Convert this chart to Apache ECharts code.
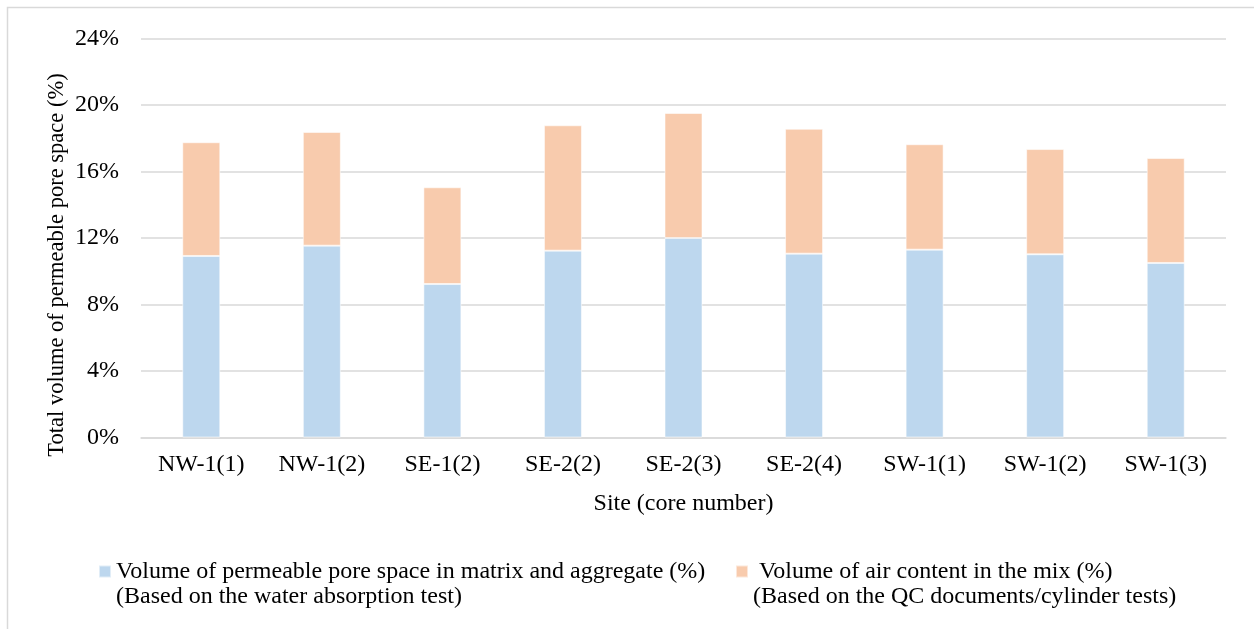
<!DOCTYPE html>
<html>
<head>
<meta charset="utf-8">
<script src="https://cdn.jsdelivr.net/npm/echarts@6/dist/echarts.min.js"></script>
<style>
  html, body { margin: 0; padding: 0; background: #ffffff; }
  #chart { width: 1254px; height: 629px; }
</style>
</head>
<body>
<div id="chart"></div>
<script>
// Core sites (x categories)
const sites = ['NW-1(1)', 'NW-1(2)', 'SE-1(2)', 'SE-2(2)', 'SE-2(3)', 'SE-2(4)', 'SW-1(1)', 'SW-1(2)', 'SW-1(3)'];

// Permeable pore space in matrix and aggregate (%), from water absorption test
const matrixPores = [10.92, 11.54, 9.23, 11.24, 12.00, 11.06, 11.30, 11.02, 10.50];

// Air content in the mix (%), from QC documents / cylinder tests
const airContent = [6.84, 6.84, 5.82, 7.54, 7.52, 7.51, 6.34, 6.33, 6.31];

// Y axis ticks (%)
const yTicks = { min: 0, max: 24, step: 4 };

const seriesNames = [
  'Volume of permeable pore space in matrix and aggregate (%)',
  'Volume of air content in the mix (%)'
];
const seriesNotes = [
  '(Based on the water absorption test)',
  '(Based on the QC documents/cylinder tests)'
];

const FONT = '"Liberation Serif", "Times New Roman", serif';
const TEXT = '#000000';
const GRID = '#D9D9D9';

// Legend marker: square in the upper part of a tall icon box so it sits beside the first text line
const legendIcon = 'path://M0,0L0.01,0M0,6.5L12,6.5L12,18.5L0,18.5ZM0,50L0.01,50';

function legendBlock(idx, left, prefix) {
  return {
    data: [seriesNames[idx]],
    left: left,
    top: 558,
    padding: 0,
    icon: legendIcon,
    itemWidth: 12,
    itemHeight: 50,
    selectedMode: false,
    formatter: function (name) {
      return prefix + name + '\n' + seriesNotes[idx];
    },
    textStyle: { fontFamily: FONT, fontSize: 24, color: TEXT, lineHeight: 25 }
  };
}

const chart = echarts.init(document.getElementById('chart'), null, { renderer: 'canvas' });

chart.setOption({
  animation: false,
  backgroundColor: '#ffffff',
  textStyle: { fontFamily: FONT },
  grid: { left: 141, right: 28, top: 38.5, bottom: 191.5, containLabel: false },
  legend: [legendBlock(0, 98, ''), legendBlock(1, 735, ' ')],
  graphic: [
    {
      type: 'rect',
      silent: true,
      shape: { x: 7.5, y: 7.5, width: 1400, height: 800 },
      style: { fill: 'none', stroke: GRID, lineWidth: 1.5 }
    },
    {
      type: 'text',
      silent: true,
      x: 57,
      y: 265,
      rotation: Math.PI / 2,
      style: {
        text: 'Total volume of permeable pore space (%)',
        fontFamily: FONT,
        fontSize: 22.5,
        fill: TEXT,
        align: 'center',
        verticalAlign: 'middle'
      }
    }
  ],
  xAxis: {
    type: 'category',
    data: sites,
    name: 'Site (core number)',
    nameLocation: 'middle',
    nameGap: 54,
    nameTextStyle: { fontFamily: FONT, fontSize: 24, color: TEXT },
    axisLine: { show: true, lineStyle: { color: GRID, width: 1.5 } },
    axisTick: { show: false },
    axisLabel: { fontFamily: FONT, fontSize: 24, color: TEXT, margin: 15, interval: 0 }
  },
  yAxis: {
    type: 'value',
    min: yTicks.min,
    max: yTicks.max,
    interval: yTicks.step,
    axisLine: { show: false },
    axisTick: { show: false },
    splitLine: { show: true, lineStyle: { color: GRID, width: 1.5 } },
    axisLabel: {
      fontFamily: FONT, fontSize: 24, color: TEXT, margin: 22,
      formatter: '{value}%'
    }
  },
  series: [
    {
      name: seriesNames[0],
      type: 'bar',
      stack: 'total',
      data: matrixPores,
      barWidth: 38,
      itemStyle: { color: '#BDD7EE', borderColor: 'rgba(255,255,255,0.55)', borderWidth: 1 }
    },
    {
      name: seriesNames[1],
      type: 'bar',
      stack: 'total',
      data: airContent,
      barWidth: 38,
      itemStyle: { color: '#F8CBAD', borderColor: 'rgba(255,255,255,0.55)', borderWidth: 1 }
    }
  ]
});
</script>
</body>
</html>
